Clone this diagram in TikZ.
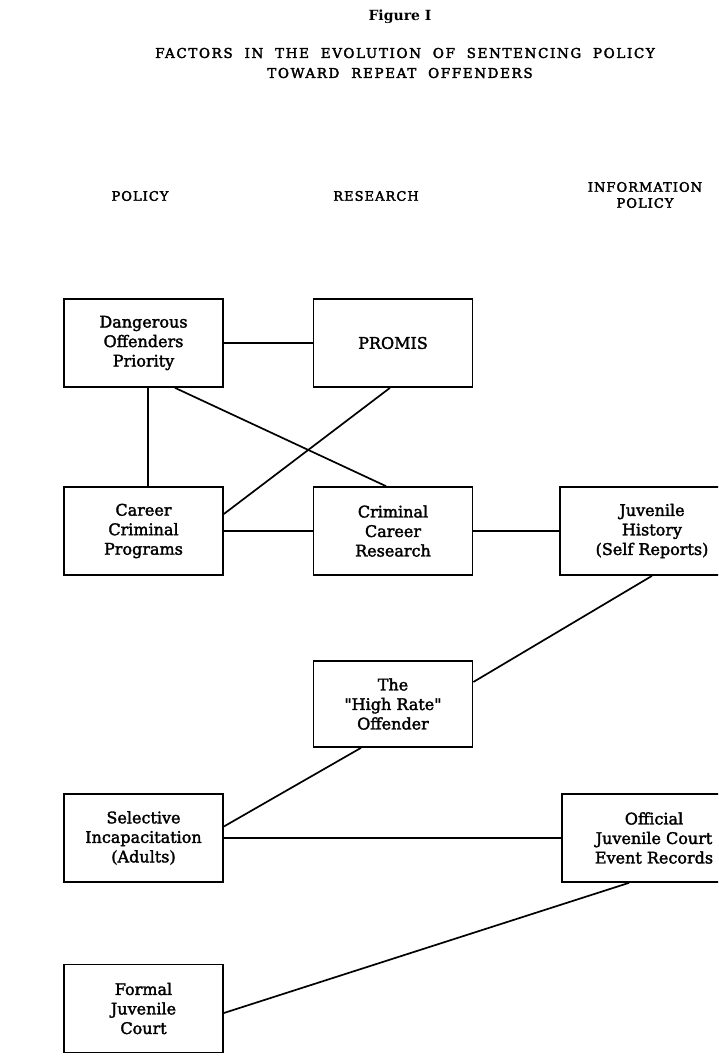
\documentclass[tikz,border=0pt]{standalone}
\usepackage{fontspec}
\setmainfont{DejaVu Serif}
\newfontfamily\boxfont{DejaVu Serif}[FakeBold=2]
\newfontfamily\titlefont{DejaVu Serif}[LetterSpace=12,WordSpace=2,FakeBold=2.5]
\newfontfamily\labfont{DejaVu Serif}[LetterSpace=8,WordSpace=1.5,FakeBold=2.5]
\begin{document}
\begin{tikzpicture}[x=1pt,y=-1pt,
  box/.style={draw, line width=1.7pt, align=center, inner sep=0pt,
    font=\boxfont\fontsize{16}{19.5}\selectfont},
  colbox/.style={box, minimum width=159pt, minimum height=88pt},
  widebox/.style={box, minimum width=184pt, minimum height=88pt},
  link/.style={line width=1.7pt},
  lab/.style={inner sep=0pt, align=center, font=\labfont\fontsize{13}{16}\selectfont},
  ttl/.style={inner sep=0pt, font=\titlefont\fontsize{13.5}{17}\selectfont}]
\useasboundingbox (0,0) rectangle (718,1064);
\fill[white] (0,0) rectangle (718,1064);
\clip (0,0) rectangle (718,1064);

% titles
\node[inner sep=0pt, font=\bfseries\fontsize{14}{17}\selectfont] (fig) at (400,17) {Figure I};
\node[ttl] (t1) at (405,53) {FACTORS IN THE EVOLUTION OF SENTENCING POLICY};
\node[ttl] (t2) at (400,73) {TOWARD REPEAT OFFENDERS};

% column labels
\node[lab] (lpol) at (140,196) {POLICY};
\node[lab] (lres) at (376,196) {RESEARCH};
\node[lab] (linf) at (645,195) {INFORMATION\\POLICY};

% boxes
\node[colbox] (D) at (143.5,343) {Dangerous\\Offenders\\Priority};
\node[colbox] (P) at (393,343) {PROMIS};
\node[colbox] (CC) at (143.5,531) {Career\\Criminal\\Programs};
\node[colbox] (CR) at (393,531) {Criminal\\Career\\Research};
\node[widebox] (J) at (652,531) {Juvenile\\History\\(Self Reports)};
\node[colbox, minimum height=86pt] (H) at (393,704) {The\\\char34 High Rate\char34\\Offender};
\node[colbox] (S) at (143.5,838) {Selective\\Incapacitation\\(Adults)};
\node[widebox] (O) at (654,838) {Official\\Juvenile Court\\Event Records};
\node[colbox] (F) at (143.5,1008.5) {Formal\\Juvenile\\Court};

% connectors
\draw[link] (D) -- (P);
\draw[link] ([xshift=4.5pt]D.south) -- ([xshift=4.5pt]CC.north);
\draw[link] ([xshift=31.5pt]D.south) -- ([xshift=-7pt]CR.north);
\draw[link] ([xshift=-3pt]P.south) -- ([yshift=17pt]CC.east);
\draw[link] (CC) -- (CR);
\draw[link] (CR) -- (J);
\draw[link] (J.south) -- ([yshift=22pt]H.east);
\draw[link] ([xshift=-32pt]H.south) -- ([yshift=11.5pt]S.east);
\draw[link] (S) -- (O);
\draw[link] ([xshift=-25pt]O.south) -- ([yshift=-4.5pt]F.east);
\end{tikzpicture}
\end{document}
